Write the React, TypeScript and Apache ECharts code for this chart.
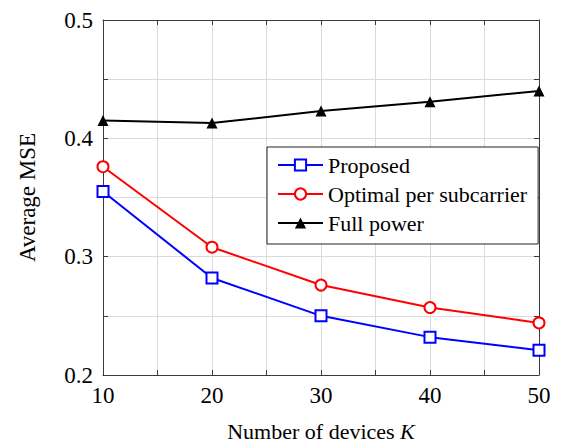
import React, { useEffect, useRef } from "react";
import * as echarts from "echarts";

const devices = [10, 20, 30, 40, 50];
const proposed = [0.355, 0.282, 0.25, 0.232, 0.221];
const optimal = [0.376, 0.308, 0.276, 0.257, 0.244];
const fullPower = [0.415, 0.413, 0.423, 0.431, 0.44];
const xTickLabels = [10, 20, 30, 40, 50];
const yTickLabels = [0.2, 0.3, 0.4, 0.5];
const seriesNames = ["Proposed", "Optimal per subcarrier", "Full power"];

const FONT = "'Liberation Serif', 'Times New Roman', serif";
const FRAME = "#3a3a3a";
const GRID = "#dadada";

export default function App() {
  const ref = useRef<HTMLDivElement>(null);
  useEffect(() => {
    if (!ref.current) return;
    const chart = echarts.init(ref.current, null, { renderer: "svg" });
    const pairs = (ys: number[]) => devices.map((x, i) => [x, ys[i]]);
    const xFmt = (v: number) =>
      xTickLabels.includes(Math.round(v)) ? "{t|" + String(Math.round(v)) + "}" : "";
    const yFmt = (v: number) => {
      const r = Math.round(v * 100) / 100;
      return yTickLabels.some((t) => Math.abs(t - r) < 1e-6) ? "{t|" + r.toFixed(1) + "}" : "";
    };
    const tStyle = { fontFamily: FONT, fontSize: 23, color: "#000" };
    const baseX = {
      type: "value" as const,
      min: 10,
      max: 50,
      interval: 5,
      axisLine: { show: true, onZero: false, lineStyle: { color: FRAME, width: 1 } },
      axisTick: { show: true, inside: true, length: 5, lineStyle: { color: FRAME, width: 1 } },
    };
    const baseY = {
      type: "value" as const,
      min: 0.2,
      max: 0.5,
      interval: 0.05,
      axisLine: { show: true, onZero: false, lineStyle: { color: FRAME, width: 1 } },
      axisTick: { show: true, inside: true, length: 5, lineStyle: { color: FRAME, width: 1 } },
    };
    chart.setOption({
      animation: false,
      backgroundColor: "#ffffff",
      textStyle: { fontFamily: FONT, fontSize: 23, color: "#000" },
      grid: { left: 103, right: 25, top: 20, bottom: 68, containLabel: false },
      xAxis: [
        {
          ...baseX,
          position: "bottom",
          axisLabel: { ...tStyle, formatter: xFmt, margin: 9, rich: { t: tStyle } },
          splitLine: { show: true, lineStyle: { color: GRID, width: 1 } },
          name: "{a|Number of devices }{b|K}",
          nameLocation: "middle",
          nameGap: 45,
          nameTextStyle: {
            fontFamily: FONT,
            fontSize: 22,
            color: "#000",
            rich: {
              a: { fontFamily: FONT, fontSize: 22, color: "#000" },
              b: { fontFamily: FONT, fontSize: 22, color: "#000", fontStyle: "italic" },
            },
          },
        },
        {
          ...baseX,
          position: "top",
          axisLabel: { show: false },
          splitLine: { show: false },
        },
      ],
      yAxis: [
        {
          ...baseY,
          position: "left",
          axisLabel: { ...tStyle, formatter: yFmt, margin: 10, rich: { t: tStyle } },
          splitLine: { show: true, lineStyle: { color: GRID, width: 1 } },
          name: "{a|Average MSE}",
          nameLocation: "middle",
          nameGap: 64,
          nameTextStyle: {
            fontFamily: FONT,
            fontSize: 23,
            color: "#000",
            rich: { a: { fontFamily: FONT, fontSize: 23, color: "#000" } },
          },
        },
        {
          ...baseY,
          position: "right",
          axisLabel: { show: false },
          splitLine: { show: false },
        },
      ],
      legend: {
        orient: "vertical",
        left: 267,
        top: 147,
        padding: [7, 11, 10, 10],
        itemGap: 7,
        itemWidth: 45,
        itemHeight: 14,
        backgroundColor: "#ffffff",
        borderColor: "#222",
        borderWidth: 1,
        borderRadius: 0,
        textStyle: { fontFamily: FONT, fontSize: 22, color: "#000", lineHeight: 22 },
        data: seriesNames,
      },
      series: [
        {
          name: seriesNames[0],
          type: "line",
          data: pairs(proposed),
          symbol: "emptyRect",
          symbolSize: 11,
          lineStyle: { color: "#0000ff", width: 2 },
          itemStyle: { color: "#0000ff", borderColor: "#0000ff", borderWidth: 2 },
          z: 3,
        },
        {
          name: seriesNames[1],
          type: "line",
          data: pairs(optimal),
          symbol: "emptyCircle",
          symbolSize: 11,
          lineStyle: { color: "#ff0000", width: 2 },
          itemStyle: { color: "#ff0000", borderColor: "#ff0000", borderWidth: 2 },
          z: 3,
        },
        {
          name: seriesNames[2],
          type: "line",
          data: pairs(fullPower),
          symbol: "triangle",
          symbolSize: 11,
          lineStyle: { color: "#000000", width: 2 },
          itemStyle: { color: "#000000" },
          z: 3,
        },
      ],
    });
    return () => chart.dispose();
  }, []);
  return <div ref={ref} style={{ width: 564, height: 447, position: "absolute", left: 0, top: 0 }} />;
}
